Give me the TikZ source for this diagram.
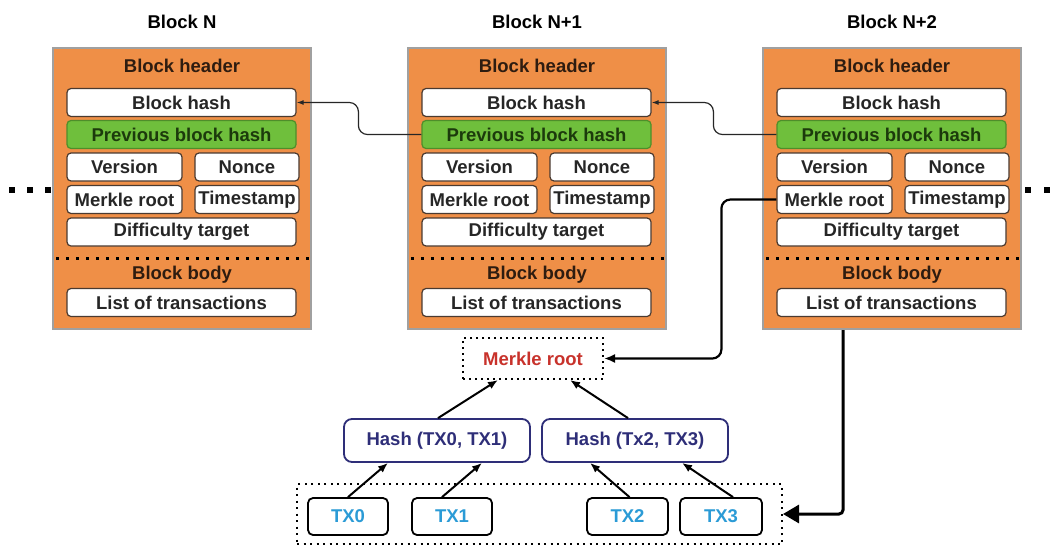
\documentclass[tikz,border=0pt]{standalone}
\usepackage{fontspec}
\setmainfont{Liberation Sans}
\usetikzlibrary{arrows.meta,calc}
\definecolor{borange}{HTML}{EF8F47}
\definecolor{bgray}{HTML}{A0A0A0}
\definecolor{fborder}{HTML}{4A3A30}
\definecolor{ftext}{HTML}{262626}
\definecolor{htext}{HTML}{2E1C10}
\definecolor{gfill}{HTML}{6FBF3C}
\definecolor{gborder}{HTML}{4E8E2A}
\definecolor{gtext}{HTML}{1C3A0C}
\definecolor{mred}{HTML}{C8322B}
\definecolor{navy}{HTML}{2E2E78}
\definecolor{txblue}{HTML}{2B9BD6}
\tikzset{
  x=1pt, y=-1pt,
  every node/.style={font=\fontsize{18.5}{21}\selectfont\bfseries, inner sep=0pt},
  blockbox/.style={draw=bgray, line width=2pt, fill=borange, minimum width=258pt, minimum height=281pt},
  titletext/.style={text=black},
  secttext/.style={text=htext},
  field/.style={draw=fborder, line width=1.2pt, fill=white, rounded corners=4pt, minimum height=28pt, text=ftext},
  widefield/.style={field, minimum width=229pt},
  leftfield/.style={field, minimum width=115pt},
  rightfield/.style={field, minimum width=104pt},
  greenfield/.style={field, draw=gborder, fill=gfill, text=gtext, minimum width=229pt},
  sepline/.style={line width=3pt, dash pattern=on 3pt off 7pt},
  link/.style={draw=black!85, line width=1.2pt, rounded corners=9pt, -{Latex[length=7pt,width=5pt]}},
  rootlink/.style={draw=black, line width=2.2pt, rounded corners=9pt, -{Latex[length=11pt,width=9pt]}},
  biglink/.style={draw=black, line width=3pt, rounded corners=4pt, -{Triangle[length=16pt,width=18pt]}},
  treelink/.style={draw=black, line width=2pt, -{Latex[length=10pt,width=8pt]}},
  rootbox/.style={draw=black, line width=2pt, dash pattern=on 2pt off 4pt, minimum width=140pt, minimum height=41pt, text=mred},
  hashbox/.style={draw=navy, line width=1.8pt, rounded corners=8pt, minimum width=186pt, minimum height=43pt, text=navy},
  txbox/.style={draw=black, line width=1.8pt, rounded corners=5pt, minimum height=37pt, text=txblue},
  txarea/.style={draw=black, line width=2pt, dash pattern=on 2pt off 4.5pt, minimum width=485pt, minimum height=60pt},
  dotsq/.style={fill=black}
}
\begin{document}
\begin{tikzpicture}
\useasboundingbox (0,0) rectangle (1057,546);
\fill[white] (0,0) rectangle (1057,546);

\foreach \i/\t in {0/N,1/N+1,2/N+2}{
  \begin{scope}[xshift=\i*355pt]
    \node[blockbox] (blk\i) at (182,188.5) {};
    \node[titletext] (ttl\i) at (182,22) {Block \t};
    \node[secttext] (head\i) at (182,66) {Block header};
    \node[widefield] (hash\i) at (181.5,102.5) {Block hash};
    \node[greenfield] (prev\i) at (181.5,134.5) {Previous block hash};
    \node[leftfield] (ver\i) at (124.5,167) {Version};
    \node[rightfield] (non\i) at (247,167) {Nonce};
    \node[leftfield] (mr\i) at (124.5,199.5) {Merkle root};
    \node[rightfield] (ts\i) at (247,199.5) {Timestamp};
    \node[widefield] (diff\i) at (181.5,232) {Difficulty target};
    \coordinate (sepl\i) at (56,258);
    \coordinate (sepr\i) at (310,258);
    \draw[sepline] (sepl\i) -- (sepr\i);
    \node[secttext] (body\i) at (182,275) {Block body};
    \node[widefield] (list\i) at (181.5,302.5) {List of transactions};
  \end{scope}
}

% continuation dots
\foreach \x in {12,30,48,1028,1047}{
  \fill[dotsq] (\x-3,187) rectangle ++(6,6);
}

% previous-hash links
\draw[link] (prev1.west) -- ++(-63,0) |- (hash0.east);
\draw[link] (prev2.west) -- ++(-63,0) |- (hash1.east);

% Merkle tree
\node[rootbox] (mroot) at (533,358.5) {Merkle root};
\node[hashbox] (h01) at (437,440.5) {Hash (TX0, TX1)};
\node[hashbox] (h23) at (635,440.5) {Hash (Tx2, TX3)};
\node[txarea] (txall) at (539.5,514) {};
\node[txbox, minimum width=80pt] (tx0) at (348,516.5) {TX0};
\node[txbox, minimum width=80pt] (tx1) at (452,516.5) {TX1};
\node[txbox, minimum width=81pt] (tx2) at (627.5,516.5) {TX2};
\node[txbox, minimum width=82pt] (tx3) at (721,516.5) {TX3};

\draw[treelink] (tx0.north) -- ([xshift=-49pt]h01.south);
\draw[treelink] ([xshift=-10pt]tx1.north) -- ([xshift=45pt]h01.south);
\draw[treelink] ([xshift=2pt]tx2.north) -- ([xshift=-45pt]h23.south);
\draw[treelink] ([xshift=12pt]tx3.north) -- ([xshift=47pt]h23.south);
\draw[treelink] ([xshift=1pt]h01.north) -- ([xshift=-35pt]mroot.south);
\draw[treelink] ([xshift=-7pt]h23.north) -- ([xshift=37pt]mroot.south);

% links from block N+2
\draw[rootlink] (mr2.west) -- ++(-55,0) |- (mroot.east);
\draw[biglink] ([xshift=-49pt]blk2.south) |- (txall.east);
\end{tikzpicture}
\end{document}
